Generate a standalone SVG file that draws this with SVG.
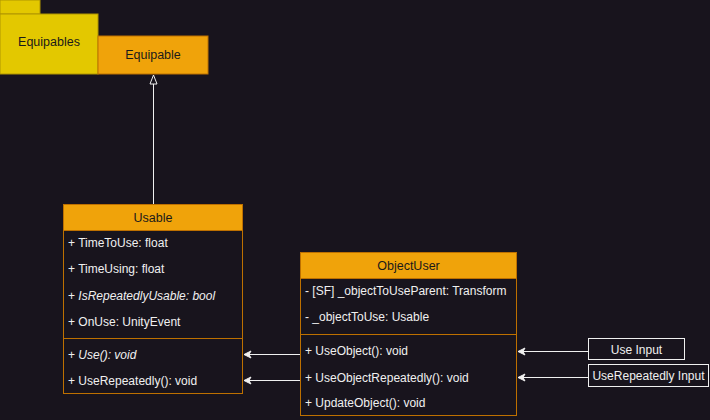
<svg xmlns="http://www.w3.org/2000/svg" width="710" height="420" viewBox="0 0 710 420">
<style>
.bg{fill:#18141d}
.pkg{fill:#e3c800;stroke:#b09500;stroke-width:1}
.cls{fill:#f0a30a;stroke:#bd7000;stroke-width:1}
.box{fill:#18141d;stroke:#bd7000;stroke-width:1}
.t{font-family:"Liberation Sans",Arial,sans-serif;font-size:12.5px;fill:#1a1a1a}
.r{font-family:"Liberation Sans",Arial,sans-serif;font-size:12px;fill:#f0f0f0}
.i{font-style:italic}
.in{fill:#18141d;stroke:#f0f0f0;stroke-width:1}
.ln{stroke:#f0f0f0;stroke-width:1;fill:none}
</style>
<defs>
<marker id="tri" markerWidth="12" markerHeight="12" refX="10" refY="5" orient="auto" markerUnits="userSpaceOnUse" viewBox="0 0 12 10">
<path d="M10,5 L1,1.5 L1,8.5 Z" fill="#18141d" stroke="#f0f0f0" stroke-width="1"/>
</marker>
<marker id="arr" markerWidth="10" markerHeight="10" refX="9" refY="5" orient="auto" markerUnits="userSpaceOnUse" viewBox="0 0 10 10">
<path d="M9,5 L2,1.5 L4,5 L2,8.5 Z" fill="#f0f0f0" stroke="#f0f0f0" stroke-width="1" stroke-linejoin="round"/>
</marker>
</defs>
<rect class="bg" x="0" y="0" width="710" height="420"/>
<g id="Equipables">
<rect class="pkg" x="0" y="0" width="40" height="14"/>
<rect class="pkg" x="0" y="14" width="98" height="60"/>
<text class="t" x="49" y="46" text-anchor="middle">Equipables</text>
</g>
<g id="Equipable">
<rect class="cls" x="98" y="36" width="110" height="38"/>
<text class="t" x="153" y="59" text-anchor="middle">Equipable</text>
</g>
<g id="Usable">
<rect class="box" x="63.5" y="204.5" width="179" height="189"/>
<rect class="cls" x="63.5" y="204.5" width="179" height="26"/>
<text class="t" x="153" y="222" text-anchor="middle">Usable</text>
<text class="r" x="68" y="247">+ TimeToUse: float</text>
<text class="r" x="68" y="273">+ TimeUsing: float</text>
<text class="r" x="68" y="300">+ <tspan class="i">IsRepeatedlyUsable: bool</tspan></text>
<text class="r" x="68" y="326">+ OnUse: UnityEvent</text>
<line x1="63.5" y1="338.5" x2="242.5" y2="338.5" stroke="#bd7000"/>
<text class="r" x="68" y="359">+ <tspan class="i">Use(): void</tspan></text>
<text class="r" x="68" y="385">+ UseRepeatedly(): void</text>
</g>
<g id="ObjectUser">
<rect class="box" x="300.5" y="252.5" width="216" height="163"/>
<rect class="cls" x="300.5" y="252.5" width="216" height="26"/>
<text class="t" x="408.5" y="270" text-anchor="middle">ObjectUser</text>
<text class="r" x="305" y="295">- [SF] _objectToUseParent: Transform</text>
<text class="r" x="305" y="321">- _objectToUse: Usable</text>
<line x1="300.5" y1="334.5" x2="516.5" y2="334.5" stroke="#bd7000"/>
<text class="r" x="305" y="355">+ UseObject(): void</text>
<text class="r" x="305" y="382">+ UseObjectRepeatedly(): void</text>
<text class="r" x="305" y="407">+ UpdateObject(): void</text>
</g>
<g id="UseInput">
<rect class="in" x="588.5" y="338.5" width="96" height="21"/>
<text class="r" x="636.5" y="353.5" text-anchor="middle">Use Input</text>
</g>
<g id="UseRepeatedlyInput">
<rect class="in" x="588.5" y="364.5" width="120" height="22"/>
<text class="r" x="648.5" y="380" text-anchor="middle">UseRepeatedly Input</text>
</g>
<g id="connectors">
<path class="ln" d="M153.5,204 L153.5,75" marker-end="url(#tri)"/>
<path class="ln" d="M300,354.5 L244,354.5" marker-end="url(#arr)"/>
<path class="ln" d="M300,380.5 L244,380.5" marker-end="url(#arr)"/>
<path class="ln" d="M588,351.5 L518,351.5" marker-end="url(#arr)"/>
<path class="ln" d="M588,377.5 L518,377.5" marker-end="url(#arr)"/>
</g>
</svg>
